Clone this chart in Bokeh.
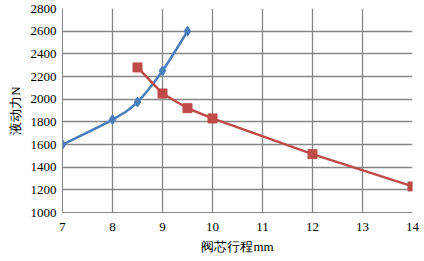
from bokeh.plotting import figure
from bokeh.embed import file_html
from bokeh.resources import INLINE
from bokeh.models import FixedTicker, Range1d

x_blue = [7, 8, 8.5, 9, 9.5]
y_blue = [1600, 1820, 1975, 2250, 2600]
x_red = [8.5, 9, 9.5, 10, 12, 14]
y_red = [2280, 2050, 1920, 1830, 1515, 1230]
x_ticks = [7, 8, 9, 10, 11, 12, 13, 14]
y_ticks = [1000, 1200, 1400, 1600, 1800, 2000, 2200, 2400, 2600, 2800]

BLUE = "#4A7EBB"
RED = "#BE4B48"
FONT = "Liberation Serif"
GRID = "#868686"

x_min, x_max = x_ticks[0], x_ticks[-1]
y_min, y_max = y_ticks[0], y_ticks[-1]

p = figure(width=424, height=261, output_backend="svg", toolbar_location=None,
           x_range=Range1d(x_min, x_max), y_range=Range1d(y_min, y_max),
           min_border_left=62, min_border_right=12, min_border_top=8, min_border_bottom=49)
p.outline_line_color = None
p.background_fill_color = "white"
p.border_fill_color = "white"

p.xgrid.ticker = FixedTicker(ticks=x_ticks)
p.ygrid.ticker = FixedTicker(ticks=y_ticks)
p.xgrid.grid_line_color = GRID
p.ygrid.grid_line_color = GRID
p.xgrid.grid_line_width = 1.3
p.ygrid.grid_line_width = 1.3
p.xgrid.grid_line_alpha = 1.0
p.ygrid.grid_line_alpha = 1.0

for ax in (p.xaxis, p.yaxis):
    ax.major_label_text_font = FONT
    ax.major_label_text_font_size = "13px"
    ax.major_label_text_color = "#000000"
    ax.axis_label_text_font = FONT
    ax.axis_label_text_font_size = "13px"
    ax.axis_label_text_font_style = "normal"
    ax.axis_label_text_color = "#000000"
    ax.axis_line_color = "#868686"
    ax.major_tick_line_color = None
    ax.minor_tick_line_color = None
    ax.major_tick_out = 0

p.xaxis.ticker = FixedTicker(ticks=x_ticks)
p.yaxis.ticker = FixedTicker(ticks=y_ticks)
p.xaxis.axis_label = "阀芯行程mm"
p.yaxis.axis_label = "液动力N"
p.xaxis.major_label_standoff = 10
p.yaxis.major_label_standoff = 6

# smoothed blue line (Catmull-Rom style Bezier segments through the data points)
n = len(x_blue)
x0s, y0s, x1s, y1s, cx0, cy0, cx1, cy1 = [], [], [], [], [], [], [], []
for i in range(n - 1):
    pm = (x_blue[max(i - 1, 0)], y_blue[max(i - 1, 0)])
    pa = (x_blue[i], y_blue[i])
    pb = (x_blue[i + 1], y_blue[i + 1])
    pn = (x_blue[min(i + 2, n - 1)], y_blue[min(i + 2, n - 1)])
    x0s.append(pa[0]); y0s.append(pa[1]); x1s.append(pb[0]); y1s.append(pb[1])
    cx0.append(pa[0] + (pb[0] - pm[0]) / 6); cy0.append(pa[1] + (pb[1] - pm[1]) / 6)
    cx1.append(pb[0] - (pn[0] - pa[0]) / 6); cy1.append(pb[1] - (pn[1] - pa[1]) / 6)
p.bezier(x0=x0s, y0=y0s, x1=x1s, y1=y1s, cx0=cx0, cy0=cy0, cx1=cx1, cy1=cy1,
         line_color=BLUE, line_width=2.5)
p.scatter(x_blue, y_blue, marker="diamond", size=10, fill_color=BLUE, line_color=BLUE)
p.line(x_red, y_red, line_color=RED, line_width=2.5)
p.scatter(x_red, y_red, marker="square", size=9, fill_color=RED, line_color=RED)

open("out.html", "w").write(file_html(p, INLINE))
